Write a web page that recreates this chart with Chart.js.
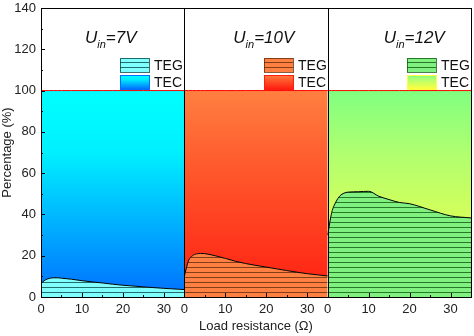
<!DOCTYPE html>
<html>
<head>
<meta charset="utf-8">
<script src="https://cdn.jsdelivr.net/npm/chart.js@4.4.1/dist/chart.umd.min.js"></script>
<style>
  html, body { margin: 0; padding: 0; background: #fff; }
  #wrap { width: 474px; height: 336px; }
</style>
</head>
<body>
<div id="wrap"><canvas id="myChart"></canvas></div>
<script>
// load resistance samples (Ohm), same for the three panels
const loadR = [0, 1, 2, 3, 4, 5, 7.5, 10, 12.5, 15, 17.5, 20, 25, 30, 35];
// TEG share (%) for each input voltage
const teg7  = [6.5, 8.2, 9.0, 9.3, 9.3, 9.1, 8.6, 7.9, 7.3, 6.8, 6.2, 5.7, 4.9, 4.2, 3.6];
const teg10 = [10.0, 17.5, 20.0, 20.9, 21.1, 21.0, 20.0, 18.7, 17.3, 16.2, 15.3, 14.5, 12.8, 11.3, 10.2];
const teg12 = [30.0, 41.0, 46.0, 49.0, 50.3, 50.8, 51.0, 51.2, 48.8, 47.2, 45.8, 45.2, 42.2, 39.3, 38.3];
const tegSeries = [teg7, teg10, teg12];
const totalShare = 100;  // TEG + TEC
const voltLabels = ['7V', '10V', '12V'];
const xTickLabels = [0, 10, 20, 30];
const yTickLabels = [0, 20, 40, 60, 80, 100, 120, 140];

const panelW = loadR[loadR.length - 1];

// colours per panel
const tegColors  = ['#80ffff', '#ff8040', '#80f080'];
const lineColors = ['rgba(0,60,60,0.75)', 'rgba(90,40,10,0.75)', 'rgba(0,70,0,0.7)'];
const tecTop     = ['#00ffff', '#ff8040', '#80ff80'];
const tecMid     = ['#00f0ff', '#ff6030', '#b0ff70'];
const tecBottom  = ['#0070ff', '#ff1e10', '#ffff40'];

function hatch(bg, line) {
    const c = document.createElement('canvas');
    c.width = 8; c.height = 5;
    const g = c.getContext('2d');
    g.fillStyle = bg; g.fillRect(0, 0, 8, 5);
    g.fillStyle = line; g.fillRect(0, 2, 8, 1);
    return document.createElement('canvas').getContext('2d').createPattern(c, 'repeat');
}

function tecGradient(p) {
    return function(context) {
        const chart = context.chart;
        if (!chart.chartArea) return tecTop[p];
        const y = chart.scales.y;
        const g = chart.ctx.createLinearGradient(0, y.getPixelForValue(100), 0, y.getPixelForValue(0));
        g.addColorStop(0, tecTop[p]);
        g.addColorStop(0.3, tecMid[p]);
        g.addColorStop(1, tecBottom[p]);
        return g;
    };
}

const datasets = [];
tegSeries.forEach((vals, p) => {
    datasets.push({
        label: 'TEG ' + voltLabels[p],
        data: loadR.map((r, i) => ({ x: p * panelW + r, y: vals[i] })),
        fill: 'origin',
        backgroundColor: hatch(tegColors[p], lineColors[p]),
        borderColor: '#000',
        borderWidth: 1,
        pointRadius: 0,
        cubicInterpolationMode: 'monotone'
    });
    datasets.push({
        label: 'TEC ' + voltLabels[p],
        data: loadR.map(r => ({ x: p * panelW + r, y: totalShare })),
        fill: '-1',
        backgroundColor: tecGradient(p),
        borderColor: '#ff0000',
        borderWidth: 1,
        pointRadius: 0
    });
});

const xTickValues = [];
tegSeries.forEach((v, p) => xTickLabels.forEach(t => xTickValues.push(p * panelW + t)));

// frame, panel dividers, inward ticks, titles and legends
const decor = {
    id: 'decor',
    afterDraw(chart) {
        const { ctx, chartArea: a, scales: { x, y } } = chart;
        ctx.save();
        ctx.strokeStyle = '#000';
        ctx.lineWidth = 1;
        const r = v => Math.round(v) + 0.5;

        // ticks inside
        ctx.beginPath();
        for (let v = 0; v <= panelW * 3; v += 5) {
            const px = r(x.getPixelForValue(v));
            const len = (v % panelW) % 10 === 0 ? 4 : 2;
            ctx.moveTo(px, a.bottom); ctx.lineTo(px, a.bottom - len);
        }
        for (let v = 0; v <= 140; v += 10) {
            const py = r(y.getPixelForValue(v));
            const len = v % 20 === 0 ? 4 : 2;
            ctx.moveTo(a.left, py); ctx.lineTo(a.left + len, py);
        }
        ctx.stroke();

        // frame + dividers
        ctx.strokeRect(r(a.left), r(a.top), Math.round(a.right - a.left), Math.round(a.bottom - a.top));
        ctx.beginPath();
        for (let p = 1; p < 3; p++) {
            const px = r(x.getPixelForValue(p * panelW));
            ctx.moveTo(px, a.top); ctx.lineTo(px, a.bottom);
        }
        ctx.stroke();

        const titleOffset = [44, 49, 56];
        tegSeries.forEach((v, p) => {
            const left = x.getPixelForValue(p * panelW);
            const right = x.getPixelForValue((p + 1) * panelW);
            // title U_in = xV
            let tx = left + titleOffset[p];
            ctx.fillStyle = '#111';
            ctx.textBaseline = 'alphabetic';
            ctx.textAlign = 'left';
            ctx.font = 'italic 17px "Liberation Sans", Arial, sans-serif';
            ctx.fillText('U', tx, 43);
            tx += ctx.measureText('U').width;
            ctx.font = 'italic 11px "Liberation Sans", Arial, sans-serif';
            ctx.fillText('in', tx, 48);
            tx += ctx.measureText('in').width;
            ctx.font = 'italic 17px "Liberation Sans", Arial, sans-serif';
            ctx.fillText('=' + voltLabels[p], tx, 43);

            // legend
            const bx = Math.round(right - 64), bw = 29, bh = 14;
            ctx.fillStyle = datasets[p * 2].backgroundColor;
            ctx.fillRect(bx, 58, bw, bh);
            ctx.strokeStyle = lineColors[p];
            ctx.strokeRect(bx + 0.5, 58.5, bw, bh);
            const g = ctx.createLinearGradient(0, 75, 0, 89);
            g.addColorStop(0, tecTop[p]);
            g.addColorStop(0.3, tecMid[p]);
            g.addColorStop(1, tecBottom[p]);
            ctx.fillStyle = g;
            ctx.fillRect(bx, 75, bw, bh);
            ctx.strokeStyle = tecBottom[p];
            ctx.strokeRect(bx + 0.5, 75.5, bw, bh);

            ctx.fillStyle = '#111';
            ctx.font = '14px "Liberation Sans", Arial, sans-serif';
            ctx.textBaseline = 'middle';
            ctx.fillText('TEG', bx + bw + 5, 66);
            ctx.fillText('TEC', bx + bw + 5, 83);
        });
        ctx.restore();
    }
};

const canvas1 = document.getElementById('myChart');
const myChart1 = new Chart(canvas1, {
    type: 'line',
    data: { datasets: datasets },
    options: {
        responsive: true,
        maintainAspectRatio: false,
        animation: false,
        layout: { padding: { top: 8, right: 3, left: 0, bottom: 0 } },
        scales: {
            x: {
                type: 'linear',
                min: 0,
                max: panelW * 3,
                afterBuildTicks: s => { s.ticks = xTickValues.map(v => ({ value: v })); },
                afterFit: s => { s.height = 39; s.paddingLeft = 0; s.paddingRight = 0; },
                grid: { display: false, drawTicks: false, tickLength: 0 },
                border: { display: false },
                ticks: {
                    autoSkip: false,
                    maxRotation: 0,
                    padding: 5,
                    color: '#222',
                    font: { size: 13, family: '"Liberation Sans", Arial, sans-serif' },
                    callback: v => String(Math.round(v % panelW))
                },
                title: {
                    display: true,
                    text: 'Load resistance (\u03A9)',
                    color: '#222',
                    padding: { top: 1, bottom: 2 },
                    font: { size: 13, family: '"Liberation Sans", Arial, sans-serif' }
                }
            },
            y: {
                min: 0,
                max: 140,
                afterBuildTicks: s => { s.ticks = yTickLabels.map(v => ({ value: v })); },
                afterFit: s => { s.width = 41; s.paddingTop = 0; s.paddingBottom = 0; },
                grid: { display: false, drawTicks: false, tickLength: 0 },
                border: { display: false },
                ticks: {
                    padding: 5,
                    color: '#222',
                    font: { size: 13, family: '"Liberation Sans", Arial, sans-serif' }
                },
                title: {
                    display: true,
                    text: 'Percentage (%)',
                    color: '#222',
                    padding: { top: 0, bottom: 2 },
                    font: { size: 13, family: '"Liberation Sans", Arial, sans-serif' }
                }
            }
        },
        plugins: {
            legend: { display: false },
            tooltip: { enabled: false }
        }
    },
    plugins: [decor]
});
</script>
</body>
</html>
